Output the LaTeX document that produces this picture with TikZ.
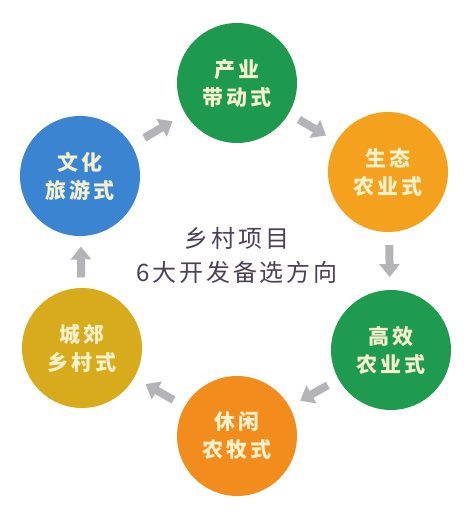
\documentclass[tikz,border=0pt]{standalone}
\usepackage{fontspec}
\newfontfamily\cjk{Noto Sans CJK SC}[LetterSpace=13]
\newfontfamily\cjkmid{Noto Sans CJK SC}[LetterSpace=12]
\usetikzlibrary{arrows.meta,calc}

\definecolor{cBlue}{HTML}{3A84D2}
\definecolor{cGreenTop}{HTML}{1E9A4E}
\definecolor{cOrangeEco}{HTML}{F4A21E}
\definecolor{cGreenLow}{HTML}{1F9B50}
\definecolor{cOrangeLow}{HTML}{F28C1C}
\definecolor{cGold}{HTML}{D8AB1C}
\definecolor{cArrow}{HTML}{B4B4B8}
\definecolor{cText}{HTML}{F5F1CC}
\definecolor{cTitle}{HTML}{4A4058}

\begin{document}
\begin{tikzpicture}[
  x=1pt, y=-1pt,
  hub/.style={circle, minimum size=120pt, inner sep=0pt, align=center,
    text=cText, font=\cjk\bfseries\fontsize{21pt}{28pt}\selectfont},
  title/.style={align=center, text=cTitle,
    font=\cjkmid\fontsize{24pt}{34pt}\selectfont},
  flowarrow/.style={cArrow, line width=8pt,
    -{Triangle[length=13pt, width=20pt]}}
]
\useasboundingbox (0,0) rectangle (476,512);

% Six development modes round the ring.
\node[hub, fill=cGreenTop]  (chanye)  at (237,83)  {产业\\带动式};
\node[hub, fill=cOrangeEco] (shengtai) at (388,172) {生态\\农业式};
\node[hub, fill=cGreenLow]  (gaoxiao) at (391,350) {高效\\农业式};
\node[hub, fill=cOrangeLow] (xiuxian) at (237,436) {休闲\\农牧式};
\node[hub, fill=cGold]      (chengjiao) at (82,348) {城郊\\乡村式};
\node[hub, fill=cBlue]      (wenhua)  at (80,176)  {文化\\旅游式};

% Centre title.
\node[title] (center) at (237,255) {乡村项目\\6大开发备选方向};

% Clockwise gray block arrows between neighbours.
\draw[flowarrow] ($(wenhua)!0.41!(chanye)$) -- ($(wenhua)!0.59!(chanye)$);
\draw[flowarrow] ($(chanye)!0.41!(shengtai)$) -- ($(chanye)!0.59!(shengtai)$);
\draw[flowarrow] ($(shengtai)!0.41!(gaoxiao)$) -- ($(shengtai)!0.59!(gaoxiao)$);
\draw[flowarrow] ($(gaoxiao)!0.41!(xiuxian)$) -- ($(gaoxiao)!0.59!(xiuxian)$);
\draw[flowarrow] ($(xiuxian)!0.41!(chengjiao)$) -- ($(xiuxian)!0.59!(chengjiao)$);
\draw[flowarrow] ($(chengjiao)!0.41!(wenhua)$) -- ($(chengjiao)!0.59!(wenhua)$);

\end{tikzpicture}
\end{document}
